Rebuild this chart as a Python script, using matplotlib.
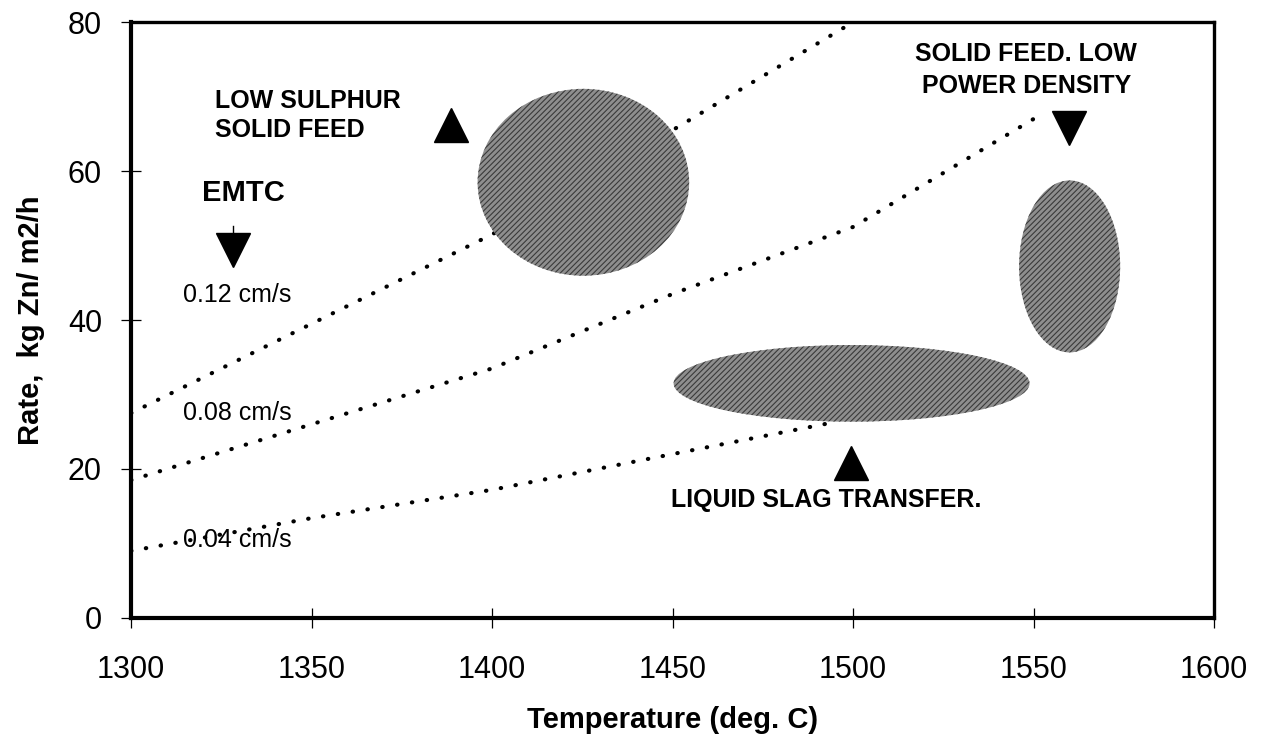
import matplotlib
matplotlib.use("Agg")
import matplotlib.pyplot as plt
from matplotlib.patches import Ellipse

plt.rcParams['font.family'] = ['Liberation Sans', 'DejaVu Sans']
plt.rcParams['hatch.linewidth'] = 0.8

# dotted EMTC curves (temperature, rate)
t_012 = [1300, 1350, 1400, 1450, 1500]
r_012 = [27.5, 39.5, 51.5, 65.5, 80.0]
t_008 = [1300, 1350, 1400, 1450, 1500, 1550]
r_008 = [18.5, 26.0, 33.5, 43.5, 52.5, 67.0]
t_004 = [1300, 1350, 1400, 1450, 1495]
r_004 = [9.0, 13.4, 17.2, 22.0, 26.3]
curve_labels = ['0.12 cm/s', '0.08 cm/s', '0.04 cm/s']
curve_label_t = [1314.5, 1314.5, 1314.5]
curve_label_r = [43.4, 27.5, 10.5]

# shaded operating regions: centre temp, centre rate, width, height
region_t = [1425.3, 1560.0, 1499.6]
region_r = [58.5, 47.2, 31.5]
region_w = [58.6, 28.0, 98.6]
region_h = [25.1, 23.1, 10.3]

# triangle pointers
up_t = [1388.6, 1499.4]
up_r = [66.2, 20.8]
down_t = [1328.3, 1559.7]
down_r = [49.4, 65.8]

x_ticks = [1300, 1350, 1400, 1450, 1500, 1550, 1600]
y_ticks = [0, 20, 40, 60, 80]

fig = plt.figure(figsize=(12.65, 7.40), dpi=100)
ax = fig.add_axes([0.1036, 0.165, 0.8561, 0.805])

for t, r in [(t_012, r_012), (t_008, r_008), (t_004, r_004)]:
    ax.plot(t, r, color='black', lw=3.0, linestyle=(0, (0.1, 3.5)),
            dash_capstyle='round', zorder=2)

for lab, t, r in zip(curve_labels, curve_label_t, curve_label_r):
    ax.text(t, r, lab, fontsize=18, ha='left', va='center')

for t, r, w, h in zip(region_t, region_r, region_w, region_h):
    ax.add_patch(Ellipse((t, r), w, h, facecolor='#8e8e8e',
                         edgecolor='#3a3a3a', hatch='//////', linewidth=0,
                         zorder=3))

ax.plot(up_t, up_r, linestyle='none', marker='^', markersize=25, color='black')
ax.plot(down_t, down_r, linestyle='none', marker='v', markersize=25, color='black')
# small stem over the EMTC arrow
ax.plot([down_t[0], down_t[0]], [down_r[0] + 1.5, down_r[0] + 3.2], color='black', lw=1)

ax.text(1323.3, 67.5, 'LOW SULPHUR\nSOLID FEED', fontsize=18, fontweight='bold',
        ha='left', va='center', linespacing=1.25)
ax.text(1319.7, 57.0, 'EMTC', fontsize=21, fontweight='bold', ha='left', va='center')
ax.text(1548, 73.6, 'SOLID FEED. LOW\nPOWER DENSITY', fontsize=18, fontweight='bold',
        ha='center', va='center', linespacing=1.4)
ax.text(1449.7, 15.8, 'LIQUID SLAG TRANSFER.', fontsize=18, fontweight='bold',
        ha='left', va='center')

ax.set_xlim(1300, 1600)
ax.set_ylim(0, 80)
ax.set_xticks(x_ticks)
ax.set_yticks(y_ticks)
ax.tick_params(axis='both', direction='inout', length=14, width=0.9, labelsize=22)
ax.tick_params(axis='x', pad=20)
ax.tick_params(axis='y', pad=14)
for side in ['left', 'bottom']:
    ax.spines[side].set_linewidth(3)
for side in ['top', 'right']:
    ax.spines[side].set_linewidth(2.4)

ax.set_xlabel('Temperature (deg. C)', fontsize=21, fontweight='bold')
ax.set_ylabel('Rate,  kg Zn/ m2/h', fontsize=21, fontweight='bold')
ax.xaxis.set_label_coords(0.5, -0.148)
ax.yaxis.set_label_coords(-0.079, 0.5)

fig.savefig('out.png', dpi=100)
